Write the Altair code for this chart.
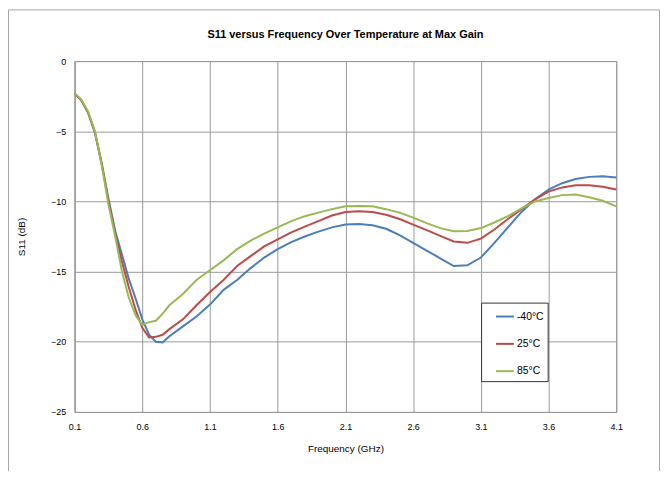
import altair as alt
import pandas as pd

# ---- data ----
freq = [0.1, 0.15, 0.2, 0.25, 0.3, 0.35, 0.4, 0.45, 0.5, 0.55, 0.6, 0.65, 0.7, 0.75, 0.8,
        0.9, 1.0, 1.1, 1.2, 1.3, 1.4, 1.5, 1.6, 1.7, 1.8, 1.9, 2.0, 2.1, 2.2, 2.3, 2.4,
        2.5, 2.6, 2.7, 2.8, 2.9, 3.0, 3.1, 3.2, 3.3, 3.4, 3.5, 3.6, 3.7, 3.8, 3.9, 4.0, 4.1]

s11_m40 = [-2.3, -2.8, -3.7, -5.1, -7.3, -9.8, -12.1, -13.8, -15.5, -16.9, -18.4, -19.5, -20.0, -20.05, -19.6,
           -18.9, -18.2, -17.35, -16.3, -15.6, -14.75, -14.0, -13.4, -12.9, -12.5, -12.15, -11.85, -11.65, -11.6, -11.7, -11.95,
           -12.4, -12.95, -13.5, -14.05, -14.6, -14.55, -14.0, -12.95, -11.85, -10.75, -9.85, -9.15, -8.7, -8.4, -8.25, -8.2, -8.3]

s11_25 = [-2.3, -2.8, -3.65, -5.05, -7.3, -10.0, -12.3, -14.3, -16.1, -17.7, -19.0, -19.7, -19.65, -19.5, -19.1,
          -18.4, -17.4, -16.45, -15.6, -14.6, -13.9, -13.2, -12.7, -12.2, -11.8, -11.4, -11.0, -10.75, -10.7, -10.75, -10.95,
          -11.25, -11.65, -12.05, -12.45, -12.85, -12.95, -12.65, -12.0, -11.25, -10.55, -9.85, -9.3, -9.0, -8.85, -8.85, -8.95, -9.15]

s11_85 = [-2.3, -2.75, -3.6, -5.0, -7.4, -10.2, -12.5, -15.0, -16.85, -18.1, -18.8, -18.6, -18.5, -18.0, -17.4,
          -16.6, -15.6, -14.9, -14.2, -13.4, -12.8, -12.3, -11.85, -11.4, -11.05, -10.8, -10.55, -10.35, -10.32, -10.35, -10.55,
          -10.8, -11.15, -11.55, -11.9, -12.12, -12.1, -11.9, -11.5, -11.05, -10.5, -10.0, -9.75, -9.55, -9.5, -9.7, -9.95, -10.35]

series_names = ["-40°C", "25°C", "85°C"]
series_colors = ["#4a7ebb", "#be4b48", "#98b954"]
x_ticks = [0.1, 0.6, 1.1, 1.6, 2.1, 2.6, 3.1, 3.6, 4.1]
y_ticks = [0, -5, -10, -15, -20, -25]

rows = []
for name, vals in zip(series_names, [s11_m40, s11_25, s11_85]):
    for f, v in zip(freq, vals):
        rows.append({"Frequency": f, "S11": v, "Temp": name})
df = pd.DataFrame(rows)

FONT = "Liberation Sans, Arial, sans-serif"
GRID = "#999999"

lines = alt.Chart(df).mark_line(strokeWidth=2).encode(
    x=alt.X("Frequency:Q",
            scale=alt.Scale(domain=[0.1, 4.1], nice=False, zero=False),
            axis=alt.Axis(values=x_ticks, format=".1f", title="Frequency (GHz)",
                          ticks=False, labelPadding=11, labelFlush=False,
                          titleY=40, titleBaseline="alphabetic",
                          labelFontSize=9, titleFontSize=10)),
    y=alt.Y("S11:Q",
            scale=alt.Scale(domain=[-25, 0], nice=False),
            axis=alt.Axis(values=y_ticks, title="S11 (dB)", ticks=False, labelPadding=9,
                          labelFlush=False,
                          titleX=-53, titleY=176.5, titleAngle=270, titleAlign="center",
                          titleBaseline="middle", labelFontSize=9, titleFontSize=10)),
    color=alt.Color("Temp:N",
                    scale=alt.Scale(domain=series_names, range=series_colors),
                    sort=series_names,
                    legend=alt.Legend(title=None, orient="none", legendX=409, legendY=243,
                                      symbolType="stroke", symbolSize=324, symbolStrokeWidth=2,
                                      symbolOffset=10, labelOffset=2, rowPadding=11.5,
                                      padding=4, fillColor="white", strokeColor="#333333",
                                      labelFontSize=10.5, labelFont=FONT, labelColor="#000000")),
)

frame = alt.Chart(pd.DataFrame({"k": [0]})).mark_rect(
    fill="transparent", stroke="#a6a6a6", strokeWidth=1
).encode(
    x=alt.value(-66.5), x2=alt.value(588.5), y=alt.value(-51.5), y2=alt.value(430)
)

chart = alt.layer(frame, lines).properties(
    width=545, height=353,
    title=alt.Title("S11 versus Frequency Over Temperature at Max Gain",
                    fontSize=11, font=FONT, fontWeight="bold", color="#000000",
                    anchor="middle", frame="group", offset=-39.5, baseline="alphabetic"),
    padding={"left": 67, "top": 52, "right": 44, "bottom": 58},
    autosize=alt.AutoSizeParams(type="none"),
).configure_view(
    stroke=GRID, strokeWidth=1
).configure_axis(
    gridColor=GRID, gridWidth=1, domainColor=GRID, domainWidth=1,
    labelFont=FONT, titleFont=FONT, labelColor="#000000", titleColor="#000000",
    titleFontWeight="normal"
)

chart.save("out.html", embed_options={"renderer": "svg", "actions": False})
